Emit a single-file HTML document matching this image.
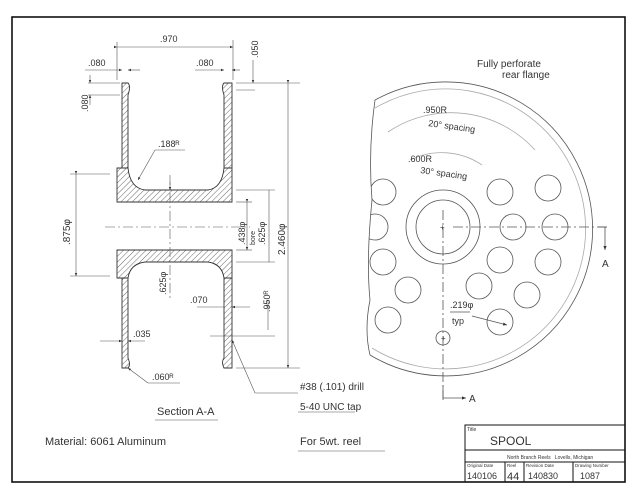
<!DOCTYPE html>
<html><head><meta charset="utf-8"><style>
html,body{margin:0;padding:0;background:#fff;}
svg{display:block;}
text{font-family:"Liberation Sans",sans-serif;fill:#333;}
</style></head><body>
<svg width="640" height="494" viewBox="0 0 640 494" xmlns="http://www.w3.org/2000/svg">
<defs>
<pattern id="h" width="4" height="4" patternUnits="userSpaceOnUse" patternTransform="rotate(45)">
<line x1="0" y1="0" x2="0" y2="4" stroke="#444" stroke-width="0.8"/></pattern>
<marker id="ar" markerWidth="6" markerHeight="6" refX="5" refY="3" orient="auto"><path d="M0,1 L5,3 L0,5z" fill="#333"/></marker>
<clipPath id="cp"><path d="M375,100 Q368,150 372,200 Q366,260 370,300 Q364,330 370,355 L640,355 L640,60 L375,60 Z"/></clipPath>
</defs>
<rect x="12" y="17" width="613" height="465" fill="none" stroke="#111" stroke-width="1.6"/>

<!-- Section view -->
<g stroke="#333" stroke-width="0.9">
<path d="M122,83 L128,83 Q131,86 128,95 L128,168 L122,168 Z" fill="url(#h)"/>
<path d="M122,278 L128,278 L128,358 Q131,365 128,368 L122,368 Z" fill="url(#h)"/>
<path d="M224,83 Q221,86 224,95 L224,168 L232,168 L232,83 Z" fill="url(#h)"/>
<path d="M224,278 L232,278 L232,368 L224,368 Q221,362 224,358 Z" fill="url(#h)"/>
<path d="M117,168 L128,168 Q130,188 145,190 L208,190 Q222,188 224,168 L232,168 L232,202 L117,202 Z" fill="url(#h)"/>
<path d="M117,250 L232,250 L232,278 L224,278 Q222,264 208,262 L145,262 Q130,264 128,278 L117,278 Z" fill="url(#h)"/>
</g>
<g stroke="#555" stroke-width="0.6" fill="none">
<line x1="105" y1="227" x2="250" y2="227" stroke-dasharray="10,3,2,3"/>
<line x1="170" y1="175" x2="170" y2="300" stroke-dasharray="10,3,2,3"/>
<line x1="117" y1="42" x2="117" y2="80"/><line x1="233" y1="40" x2="233" y2="80"/>
<line x1="117" y1="47" x2="233" y2="47" marker-start="url(#ar)" marker-end="url(#ar)"/>
<line x1="85" y1="70" x2="122" y2="70" marker-end="url(#ar)"/><line x1="140" y1="70" x2="128" y2="70" marker-end="url(#ar)"/>
<line x1="195" y1="70" x2="224" y2="70" marker-end="url(#ar)"/><line x1="240" y1="70" x2="232" y2="70" marker-end="url(#ar)"/>
<line x1="88" y1="83" x2="120" y2="83"/><line x1="88" y1="95" x2="120" y2="95"/>
<line x1="90" y1="75" x2="90" y2="83" marker-end="url(#ar)"/><line x1="90" y1="105" x2="90" y2="95" marker-end="url(#ar)"/>
<line x1="236" y1="83" x2="300" y2="83"/><line x1="236" y1="90" x2="255" y2="90"/>
<line x1="253" y1="60" x2="253" y2="83" marker-end="url(#ar)"/>
<line x1="70" y1="174" x2="110" y2="174"/><line x1="70" y1="276" x2="110" y2="276"/>
<line x1="76" y1="174" x2="76" y2="276" marker-start="url(#ar)" marker-end="url(#ar)"/>
<line x1="155" y1="150" x2="185" y2="150"/><line x1="155" y1="150" x2="138" y2="180" marker-end="url(#ar)"/>
<line x1="170" y1="182" x2="170" y2="190" marker-end="url(#ar)"/>
<line x1="236" y1="202" x2="252" y2="202"/><line x1="236" y1="250" x2="252" y2="250"/>
<line x1="247" y1="202" x2="247" y2="250" marker-start="url(#ar)" marker-end="url(#ar)"/>
<line x1="236" y1="190" x2="275" y2="190"/><line x1="236" y1="262" x2="275" y2="262"/>
<line x1="269" y1="190" x2="269" y2="262"/>
<line x1="288" y1="83" x2="288" y2="368" marker-start="url(#ar)" marker-end="url(#ar)"/>
<line x1="236" y1="368" x2="300" y2="368"/>
<line x1="268" y1="300" x2="268" y2="330"/>
<line x1="210" y1="336" x2="275" y2="336"/>
<line x1="197" y1="307" x2="224" y2="307"/><line x1="250" y1="307" x2="232" y2="307" marker-end="url(#ar)"/>
<line x1="100" y1="341" x2="122" y2="341" marker-end="url(#ar)"/><line x1="145" y1="341" x2="128" y2="341" marker-end="url(#ar)"/>
<line x1="180" y1="383" x2="148" y2="383"/><line x1="148" y1="383" x2="128" y2="368" marker-end="url(#ar)"/>
<line x1="298" y1="393" x2="255" y2="393"/><line x1="255" y1="393" x2="232" y2="340" marker-end="url(#ar)"/>
<line x1="155" y1="420" x2="218" y2="420"/><line x1="298" y1="412" x2="355" y2="412"/>
<line x1="298" y1="451" x2="385" y2="451"/>
</g>
<g font-size="9">
<text x="160" y="42">.970</text>
<text x="88" y="66">.080</text><text x="196" y="66">.080</text>
<text transform="translate(258,58) rotate(-90)">.050</text>
<text transform="translate(88,112) rotate(-90)">.080</text>
<text x="158" y="147">.188ᴿ</text>
<text transform="translate(70,245) rotate(-90)" font-size="10">.875φ</text>
<text transform="translate(245,245) rotate(-90)">.438φ</text>
<text transform="translate(255,245) rotate(-90)" font-size="7">bore</text>
<text transform="translate(265,245) rotate(-90)">.625φ</text>
<text transform="translate(285,255) rotate(-90)" font-size="10">2.460φ</text>
<text transform="translate(166,295) rotate(-90)">.625φ</text>
<text transform="translate(270,312) rotate(-90)">.950ᴿ</text>
<text x="190" y="303">.070</text>
<text x="133" y="337">.035</text>
<text x="152" y="380">.060ᴿ</text>
<text x="157" y="415" font-size="11">Section A-A</text>
<text x="300" y="390" font-size="10">#38 (.101) drill</text>
<text x="300" y="410" font-size="10">5-40 UNC tap</text>
<text x="45" y="445" font-size="11">Material: 6061 Aluminum</text>
<text x="300" y="445" font-size="11">For 5wt. reel</text>
<text x="477" y="67" font-size="10">Fully perforate</text>
<text x="502" y="78" font-size="10">rear flange</text>
</g>

<!-- Flange view -->
<g stroke="#555" stroke-width="0.8" fill="none">
<path d="M375,100 A147,147 0 1 1 370,355"/>
<path d="M375,108 A140,140 0 1 1 372,348" stroke="#aaa"/>
<path d="M375,100 Q368,150 372,200 Q366,260 370,300 Q364,330 370,355"/>
<path d="M388,132 A113,113 0 0 1 535,150" stroke="#aaa"/>
<path d="M410,160 A72,72 0 0 1 482,165" stroke="#aaa"/>
<circle cx="443" cy="227" r="37"/><circle cx="443" cy="227" r="27"/>
<g clip-path="url(#cp)">
<circle cx="513" cy="227" r="13"/><circle cx="500" cy="192" r="13"/><circle cx="500" cy="260" r="13"/><circle cx="479" cy="286" r="13"/>
<circle cx="383" cy="192" r="13"/><circle cx="375" cy="227" r="13"/><circle cx="383" cy="262" r="13"/><circle cx="408" cy="290" r="13"/>
<circle cx="548" cy="188" r="13"/><circle cx="555" cy="227" r="13"/><circle cx="548" cy="262" r="13"/><circle cx="527" cy="295" r="13"/><circle cx="500" cy="322" r="13"/><circle cx="388" cy="320" r="13"/>
</g>
<circle cx="443" cy="338" r="7"/>
<line x1="443" y1="210" x2="443" y2="400" stroke-dasharray="10,3,2,3"/>
<line x1="453" y1="227" x2="607" y2="227" stroke-dasharray="10,3,2,3"/>
<line x1="598" y1="227" x2="607" y2="227"/><line x1="605" y1="227" x2="605" y2="250" marker-end="url(#ar)"/>
<line x1="443" y1="385" x2="443" y2="398"/><line x1="443" y1="398" x2="466" y2="398" marker-end="url(#ar)"/>
<line x1="450" y1="312" x2="470" y2="312"/><line x1="472" y1="316" x2="507" y2="325" marker-end="url(#ar)"/>
</g>
<g font-size="9">
<text x="423" y="113">.950R</text><text x="428" y="126" transform="rotate(8 428 126)">20° spacing</text>
<text x="408" y="162">.600R</text><text x="420" y="173" transform="rotate(8 420 173)">30° spacing</text>
<text x="450" y="308">.219φ</text><text x="452" y="324">typ</text>
<text x="441" y="341" font-size="8">+</text><text x="440" y="230" font-size="8">+</text>
<text x="602" y="267" font-size="10">A</text>
<text x="469" y="402" font-size="10">A</text>
</g>

<!-- Title block -->
<g stroke="#111" stroke-width="1" fill="none">
<rect x="465" y="425" width="160" height="57"/>
<line x1="465" y1="450" x2="625" y2="450"/><line x1="465" y1="462" x2="625" y2="462"/>
<line x1="505" y1="462" x2="505" y2="482"/><line x1="524" y1="462" x2="524" y2="482"/><line x1="573" y1="462" x2="573" y2="482"/>
</g>
<g>
<text x="467" y="431" font-size="5">Title</text>
<text x="490" y="445" font-size="12">SPOOL</text>
<text x="507" y="459" font-size="5">North Branch Reels&#160;&#160;&#160;Lovells, Michigan</text>
<text x="467" y="467" font-size="4.5">Original Date</text><text x="507" y="467" font-size="4.5">Reel</text>
<text x="526" y="467" font-size="4.5">Revision Date</text><text x="575" y="467" font-size="4.5">Drawing Number</text>
<text x="467" y="479" font-size="9">140106</text><text x="507" y="480" font-size="11">44</text>
<text x="528" y="479" font-size="9">140830</text><text x="580" y="479" font-size="9">1087</text>
</g>
</svg>
</body></html>
